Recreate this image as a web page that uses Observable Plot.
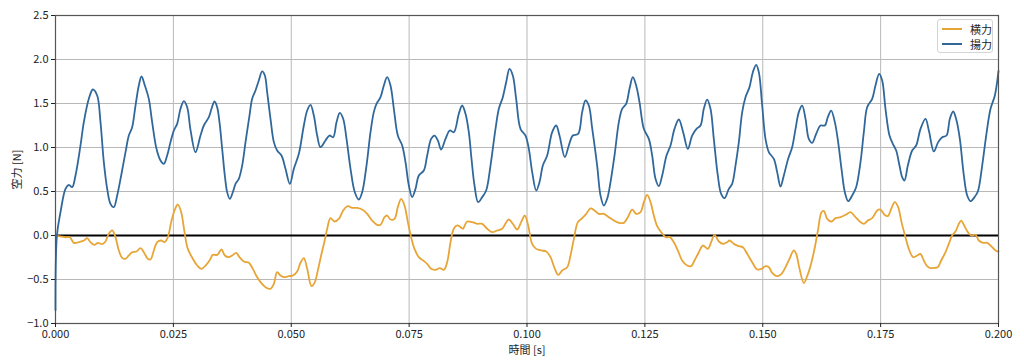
<!DOCTYPE html>
<html><head><meta charset="utf-8">
<script src="https://cdn.jsdelivr.net/npm/d3@7"></script>
<script src="https://cdn.jsdelivr.net/npm/@observablehq/plot@0.6"></script>
<style>
body{margin:0;background:#fff;}
#wrap{position:relative;width:1024px;height:364px;font-family:"Noto Sans CJK JP","Noto Sans",sans-serif;}
#legend{position:absolute;left:937px;top:19px;width:56px;height:34px;border:1px solid #d4d4d4;border-radius:3px;background:rgba(255,255,255,0.85);font-size:11px;color:#222;box-sizing:border-box;}
.item{position:absolute;left:4px;height:14px;display:flex;align-items:center;}
.sw{width:20px;height:0;border-top:2px solid;margin-right:8px;}
</style></head>
<body><div id="wrap"></div>
<script>
const xTicks = [0, 0.025, 0.05, 0.075, 0.1, 0.125, 0.15, 0.175, 0.2];
const yTicks = [-1.0, -0.5, 0.0, 0.5, 1.0, 1.5, 2.0, 2.5];
const seriesNames = ["横力", "揚力"];
const seriesColors = ["#e8a537", "#31689b"];

const liftT = [0,0.0003,0.00106,0.00212,0.00283,0.00354,0.00424,0.0053,0.00601,0.00707,0.00792,0.00884,0.00954,0.01025,0.01096,0.01166,0.01237,0.01308,0.01393,0.01485,0.01555,0.01626,0.01697,0.01767,0.01824,0.01895,0.01979,0.0205,0.02142,0.02227,0.02298,0.02368,0.02439,0.0251,0.0258,0.02651,0.02722,0.02793,0.02863,0.02969,0.03075,0.03146,0.03252,0.03309,0.03372,0.03429,0.03478,0.03535,0.03591,0.03641,0.03697,0.03761,0.03818,0.03888,0.03959,0.0403,0.04115,0.04171,0.04242,0.04312,0.04383,0.0444,0.04489,0.0456,0.04631,0.04701,0.04793,0.04878,0.0497,0.05055,0.05161,0.05267,0.05338,0.05408,0.05479,0.0555,0.0562,0.05726,0.05811,0.05889,0.0596,0.0603,0.06101,0.06172,0.06257,0.06348,0.06433,0.06504,0.06596,0.06681,0.06751,0.06808,0.06893,0.06964,0.07034,0.07105,0.07176,0.0726,0.07353,0.07423,0.07494,0.07565,0.07635,0.07706,0.07812,0.07883,0.07967,0.08038,0.08109,0.0818,0.08271,0.08363,0.08448,0.08554,0.08625,0.08696,0.08766,0.08823,0.08887,0.08964,0.09049,0.09134,0.09226,0.09332,0.09403,0.09487,0.09558,0.09629,0.09699,0.0977,0.09862,0.09968,0.10039,0.1011,0.10195,0.10265,0.10336,0.10428,0.10534,0.10619,0.10689,0.10802,0.10887,0.10972,0.11085,0.1117,0.11241,0.11311,0.11382,0.11488,0.11559,0.1163,0.117,0.11771,0.11856,0.11948,0.12018,0.12103,0.12174,0.12245,0.12315,0.12386,0.12478,0.12584,0.12655,0.12725,0.12796,0.12867,0.12959,0.13044,0.13128,0.1322,0.13312,0.13411,0.13503,0.13595,0.1368,0.1375,0.13821,0.13892,0.13962,0.14047,0.14118,0.14189,0.14281,0.14351,0.14422,0.14493,0.14564,0.14634,0.14719,0.1479,0.1486,0.14917,0.14988,0.15058,0.15129,0.15235,0.15306,0.15376,0.15447,0.15539,0.15624,0.15695,0.15765,0.15836,0.15907,0.15977,0.16048,0.16133,0.16225,0.16317,0.1638,0.16451,0.16529,0.16599,0.1667,0.16741,0.16812,0.16896,0.16981,0.17073,0.17144,0.17215,0.17321,0.17391,0.17469,0.17533,0.17603,0.17688,0.17759,0.1783,0.179,0.17957,0.18006,0.18077,0.18169,0.18254,0.18346,0.18452,0.18523,0.18629,0.18721,0.18806,0.18897,0.18968,0.19039,0.1911,0.1918,0.19265,0.19336,0.19406,0.19491,0.19562,0.19654,0.19739,0.19831,0.19923,0.2];
const liftV = [-0.85,0.0,0.265,0.53,0.576,0.549,0.682,1.023,1.288,1.553,1.659,1.591,1.288,0.833,0.53,0.36,0.322,0.455,0.682,0.947,1.136,1.231,1.477,1.705,1.807,1.705,1.553,1.288,0.985,0.852,0.814,0.909,1.061,1.193,1.269,1.44,1.527,1.458,1.2,0.947,1.136,1.25,1.345,1.44,1.523,1.458,1.288,0.985,0.682,0.492,0.417,0.492,0.587,0.644,0.795,1.061,1.364,1.553,1.648,1.761,1.864,1.818,1.629,1.326,1.061,0.966,0.909,0.758,0.587,0.758,0.928,1.25,1.42,1.485,1.364,1.136,1.004,1.08,1.136,1.117,1.288,1.394,1.326,1.098,0.758,0.492,0.409,0.492,0.795,1.174,1.402,1.496,1.572,1.705,1.799,1.705,1.44,1.136,1.023,0.833,0.568,0.436,0.53,0.682,0.739,0.909,1.098,1.136,1.08,0.977,1.098,1.193,1.174,1.383,1.477,1.383,1.174,0.871,0.568,0.379,0.436,0.511,0.795,1.212,1.44,1.572,1.742,1.894,1.818,1.553,1.212,1.136,0.985,0.72,0.511,0.606,0.795,0.909,1.174,1.25,1.136,0.89,1.023,1.136,1.155,1.402,1.534,1.477,1.22,0.795,0.455,0.341,0.417,0.606,0.909,1.288,1.44,1.496,1.667,1.799,1.705,1.515,1.212,1.098,0.909,0.644,0.561,0.682,0.909,1.023,1.212,1.318,1.174,0.985,1.136,1.212,1.25,1.44,1.545,1.44,1.098,0.682,0.473,0.424,0.53,0.587,0.795,1.061,1.402,1.572,1.686,1.856,1.939,1.856,1.477,1.098,0.947,0.871,0.72,0.557,0.682,0.871,1.004,1.212,1.402,1.477,1.326,1.098,1.053,1.155,1.25,1.25,1.345,1.42,1.288,1.061,0.758,0.492,0.39,0.455,0.549,0.833,1.174,1.458,1.553,1.705,1.837,1.761,1.44,1.136,1.042,0.966,0.795,0.663,0.625,0.795,0.966,1.023,1.212,1.326,1.193,0.955,1.061,1.117,1.136,1.326,1.409,1.307,1.098,0.682,0.455,0.39,0.436,0.5,0.795,1.136,1.44,1.591,1.87];

const sideT = [0,0.00106,0.00212,0.00304,0.0039,0.00495,0.00601,0.00672,0.00742,0.00827,0.00898,0.00989,0.0106,0.0113,0.01202,0.01272,0.01343,0.01414,0.01485,0.01555,0.01626,0.01718,0.01803,0.01873,0.01958,0.02015,0.02086,0.02157,0.02241,0.02312,0.02383,0.02454,0.02524,0.02595,0.02666,0.02736,0.02807,0.02913,0.03005,0.03097,0.03182,0.03267,0.03337,0.03429,0.03521,0.03592,0.03676,0.03747,0.03832,0.03903,0.03995,0.04101,0.04186,0.04256,0.04348,0.04454,0.0456,0.04631,0.04701,0.04772,0.04843,0.04949,0.05034,0.05126,0.05196,0.05267,0.05338,0.0543,0.055,0.05571,0.05642,0.05712,0.05762,0.05832,0.05917,0.06009,0.06101,0.062,0.06292,0.06398,0.06504,0.0661,0.06716,0.06822,0.06893,0.06978,0.07034,0.07105,0.0719,0.0726,0.07331,0.07402,0.07473,0.07543,0.07614,0.07706,0.07798,0.07883,0.07967,0.08059,0.08151,0.08236,0.08307,0.08378,0.08448,0.08519,0.0859,0.08639,0.0873,0.08837,0.08943,0.09049,0.09155,0.09261,0.09367,0.09474,0.0954,0.09615,0.09699,0.09791,0.09876,0.09954,0.10025,0.10109,0.10194,0.10308,0.10407,0.10499,0.10591,0.10662,0.10746,0.10852,0.10923,0.10994,0.11079,0.11171,0.11256,0.11348,0.11432,0.11524,0.1163,0.11736,0.11842,0.11948,0.12054,0.12139,0.12231,0.12315,0.12407,0.12478,0.12549,0.1262,0.1269,0.12761,0.12846,0.12938,0.1303,0.13114,0.13199,0.13291,0.13397,0.13482,0.13553,0.13645,0.13729,0.13835,0.13906,0.13977,0.14069,0.14161,0.14245,0.14295,0.14387,0.14493,0.14578,0.1467,0.14776,0.14882,0.14974,0.15058,0.15129,0.152,0.15306,0.15398,0.15483,0.15567,0.15659,0.15709,0.1578,0.15872,0.15942,0.16034,0.16105,0.16176,0.16246,0.16296,0.16367,0.16459,0.16544,0.1665,0.16756,0.16862,0.16968,0.17074,0.17144,0.17229,0.17321,0.17427,0.17497,0.17582,0.17653,0.17724,0.17801,0.17872,0.17943,0.18027,0.18098,0.1819,0.18275,0.18345,0.18416,0.18487,0.18557,0.18642,0.18713,0.18784,0.18876,0.18946,0.19017,0.19088,0.19159,0.19208,0.19279,0.1935,0.19421,0.19512,0.19583,0.19675,0.1976,0.19845,0.19937,0.2];
const sideV = [0,-0.01,-0.02,-0.02,-0.083,-0.076,-0.057,-0.03,-0.076,-0.106,-0.083,-0.098,-0.068,0.019,0.057,-0.019,-0.17,-0.254,-0.265,-0.227,-0.19,-0.182,-0.144,-0.19,-0.265,-0.273,-0.17,-0.076,-0.057,-0.076,-0.019,0.152,0.284,0.352,0.265,0.038,-0.152,-0.265,-0.341,-0.379,-0.341,-0.284,-0.22,-0.22,-0.159,-0.227,-0.246,-0.227,-0.197,-0.246,-0.295,-0.31,-0.379,-0.455,-0.53,-0.587,-0.606,-0.549,-0.417,-0.455,-0.473,-0.462,-0.455,-0.409,-0.31,-0.258,-0.379,-0.576,-0.53,-0.379,-0.208,-0.05,0.076,0.197,0.159,0.189,0.284,0.333,0.314,0.314,0.295,0.246,0.17,0.121,0.121,0.208,0.227,0.182,0.189,0.322,0.417,0.341,0.152,-0.019,-0.152,-0.246,-0.284,-0.322,-0.379,-0.39,-0.371,-0.39,-0.303,-0.076,0.076,0.114,0.095,0.076,0.159,0.152,0.133,0.133,0.076,0.038,0.057,0.076,0.133,0.182,0.133,0.068,0.152,0.227,0.114,-0.095,-0.152,-0.17,-0.182,-0.246,-0.379,-0.447,-0.398,-0.36,-0.227,-0.038,0.152,0.197,0.246,0.307,0.284,0.246,0.246,0.208,0.17,0.144,0.144,0.208,0.295,0.246,0.265,0.379,0.462,0.379,0.227,0.106,0.038,-0.019,-0.019,-0.076,-0.17,-0.284,-0.341,-0.348,-0.284,-0.19,-0.114,-0.152,-0.076,0.008,-0.068,-0.095,-0.076,-0.057,-0.095,-0.121,-0.133,-0.208,-0.303,-0.386,-0.379,-0.348,-0.36,-0.424,-0.462,-0.436,-0.36,-0.265,-0.17,-0.208,-0.379,-0.541,-0.462,-0.303,-0.133,0.076,0.265,0.28,0.189,0.159,0.197,0.208,0.235,0.265,0.208,0.152,0.133,0.17,0.197,0.284,0.295,0.235,0.22,0.303,0.379,0.322,0.152,-0.019,-0.152,-0.246,-0.227,-0.208,-0.284,-0.348,-0.371,-0.367,-0.36,-0.284,-0.19,-0.095,0.0,0.045,0.133,0.17,0.106,0.038,0.0,0.008,-0.057,-0.083,-0.083,-0.121,-0.17,-0.182];

const side = sideT.map((t, i) => ({t, v: sideV[i]}));
const lift = liftT.map((t, i) => ({t, v: liftV[i]}));

const chart = Plot.plot({
  width: 1024, height: 364,
  marginLeft: 55, marginRight: 26, marginTop: 15, marginBottom: 41,
  style: {fontFamily: '"Noto Sans CJK JP","Noto Sans",sans-serif', fontSize: "11px", color: "#222", background: "#fff"},
  x: {domain: [0, 0.2]},
  y: {domain: [-1, 2.5]},
  marks: [
    Plot.gridX(xTicks, {stroke: "#b8b8b8", strokeOpacity: 1}),
    Plot.gridY(yTicks, {stroke: "#b8b8b8", strokeOpacity: 1}),
    Plot.ruleY([0], {stroke: "#000", strokeWidth: 1.8}),
    Plot.line(side, {x: "t", y: "v", stroke: seriesColors[0], strokeWidth: 1.8, curve: "catmull-rom"}),
    Plot.line(lift, {x: "t", y: "v", stroke: seriesColors[1], strokeWidth: 1.8, curve: "catmull-rom"}),
    Plot.frame({stroke: "#555", strokeWidth: 1.2}),
    Plot.axisX(xTicks, {tickFormat: d3.format(".3f"), tickSize: 4, tickPadding: 3, label: "時間 [s]", labelAnchor: "center", labelArrow: "none", labelOffset: 30}),
    Plot.axisY(yTicks, {tickFormat: d3.format(".1f"), tickSize: 4, tickPadding: 3, label: "空力 [N]", labelAnchor: "center", labelArrow: "none", labelOffset: 42})
  ]
});
const wrap = document.getElementById("wrap");
wrap.appendChild(chart);
const lg = document.createElement("div");
lg.id = "legend";
seriesNames.forEach((n, i) => {
  const it = document.createElement("div");
  it.className = "item";
  it.style.top = (2 + i * 15) + "px";
  const sw = document.createElement("span");
  sw.className = "sw";
  sw.style.borderTopColor = seriesColors[i];
  const tx = document.createElement("span");
  tx.textContent = n;
  it.appendChild(sw); it.appendChild(tx);
  lg.appendChild(it);
});
wrap.appendChild(lg);
</script></body></html>
